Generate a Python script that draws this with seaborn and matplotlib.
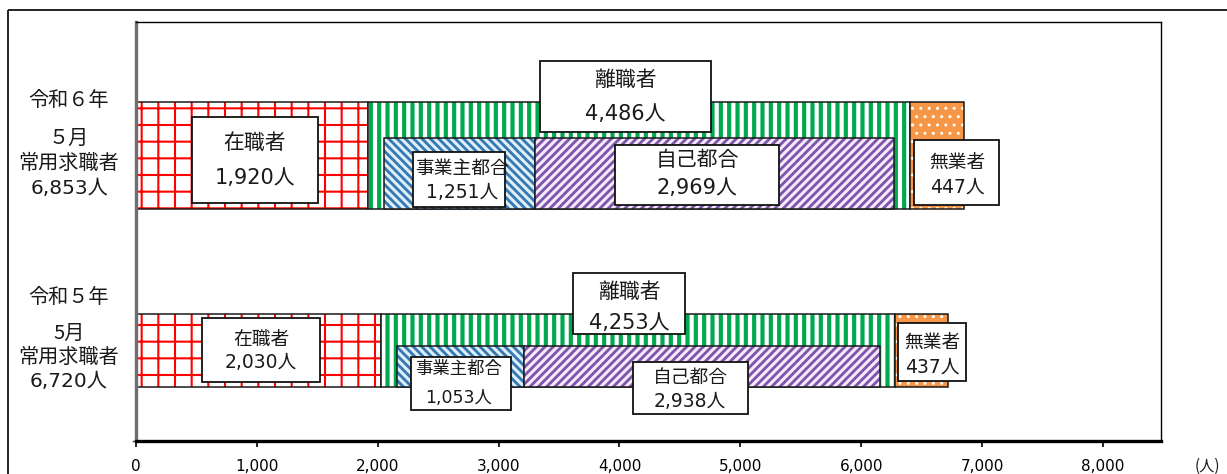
import numpy as np
import pandas as pd
import matplotlib
matplotlib.use("Agg")
import matplotlib.pyplot as plt
import seaborn as sns
from matplotlib.patches import Rectangle
from matplotlib.transforms import Affine2D

# ---------------- data ----------------
years = ["令和６年", "令和５年"]
months = ["５月", "5月"]
seekers_label = "常用求職者"
total = [6853, 6720]
employed = [1920, 2030]          # 在職者
separated = [4486, 4253]         # 離職者
employer_reason = [1251, 1053]   # 事業主都合
own_reason = [2969, 2938]        # 自己都合
unemployed = [447, 437]          # 無業者
series_names = ["在職者", "離職者", "事業主都合", "自己都合", "無業者"]
xtick_values = [0, 1000, 2000, 3000, 4000, 5000, 6000, 7000, 8000]
unit_label = "(人)"

# ---------------- style ----------------
W, H = 1227, 474
sns.set_theme(style="white")
plt.rcParams["font.family"] = ["Noto Sans CJK JP", "DejaVu Sans"]
NUM_FONT = ["DejaVu Sans", "Noto Sans CJK JP"]

fig = plt.figure(figsize=(W / 100, H / 100), dpi=100)
px = Affine2D().scale(1 / W, -1 / H).translate(0, 1) + fig.transFigure
ax = fig.add_axes([136 / W, 1 - 441 / H, (1161 - 136) / W, (441 - 22) / H])

# bar layout (axis units, ylim 0..10)
main_pos = [6.814, 2.16]
main_h = [2.554, 1.742]
inner_pos = [6.384, 1.778]
inner_h = [1.695, 0.978]

styles = {
    "在職者": dict(face="white", hc="#FF0000", hatch="+", hlw=1.5),
    "離職者": dict(face="white", hc="#00A84F", hatch="||", hlw=3.0),
    "事業主都合": dict(face="#DCEFF8", hc="#3577B0", hatch="\\\\\\\\", hlw=2.0),
    "自己都合": dict(face="#F4E8FA", hc="#7B55A8", hatch="////", hlw=2.0),
    "無業者": dict(face="#F79646", hc="white", hatch="..", hlw=1.0),
}


def draw_bar(value, pos, h, left, st):
    n0 = len(ax.patches)
    with plt.rc_context({"hatch.linewidth": st["hlw"]}):
        sns.barplot(x=[value], y=[pos], orient="y", native_scale=True, width=h,
                    left=left, color=st["face"], edgecolor=st["hc"], hatch=st["hatch"],
                    linewidth=0, saturation=1, errorbar=None, ax=ax)
    for p in ax.patches[n0:]:
        if hasattr(p, "set_hatch_linewidth"):
            p.set_hatch_linewidth(st["hlw"])
    sns.barplot(x=[value], y=[pos], orient="y", native_scale=True, width=h,
                left=left, color="#1a1a1a", fill=False, linewidth=1.1,
                saturation=1, errorbar=None, ax=ax)


for i in range(len(years)):
    # main stacked segments
    draw_bar(employed[i], main_pos[i], main_h[i], 0, styles["在職者"])
    draw_bar(separated[i], main_pos[i], main_h[i], employed[i], styles["離職者"])
    draw_bar(unemployed[i], main_pos[i], main_h[i], employed[i] + separated[i], styles["無業者"])
    # breakdown of 離職者
    start = employed[i] + (separated[i] - employer_reason[i] - own_reason[i]) / 2
    draw_bar(employer_reason[i], inner_pos[i], inner_h[i], start, styles["事業主都合"])
    draw_bar(own_reason[i], inner_pos[i], inner_h[i], start + employer_reason[i], styles["自己都合"])

ax.set_xlim(0, 8480)
ax.set_ylim(0, 10)
ax.set_xticks(xtick_values)
ax.set_xticklabels([f"{v:,}" for v in xtick_values])
ax.set_yticks([0])
ax.set_yticklabels([])
ax.set_xlabel("")
ax.set_ylabel("")
ax.tick_params(axis="x", bottom=True, direction="out", length=4, width=1.2,
               color="black", pad=9, labelsize=11, labelcolor="black")
ax.tick_params(axis="y", left=True, direction="out", length=3, width=1.0, color="#555555")
for lab in ax.get_xticklabels():
    lab.set_family(["DejaVu Sans"])
for side, (c, lw) in {"left": ("#6e6e6e", 2.4), "bottom": ("black", 2.4),
                      "top": ("black", 1.0), "right": ("black", 1.0)}.items():
    ax.spines[side].set_visible(True)
    ax.spines[side].set_color(c)
    ax.spines[side].set_linewidth(lw)

# outer chart frame
fig.add_artist(Rectangle((8, 10), 1400, 700, transform=px, fill=False,
                         lw=1.4, ec="#222222", zorder=4))

# unit label
fig.text(1207, 466, unit_label, transform=px, ha="center", va="center",
         fontsize=11, color="#1a1a1a")

# category labels
cat_y = [(100, 138, 163, 188), (298, 333, 357, 382)]
for i in range(len(years)):
    texts = [years[i], months[i], seekers_label]
    for t, y in zip(texts, cat_y[i][:3]):
        fig.text(69, y, t, transform=px, ha="center", va="center",
                 fontsize=14.5, color="#1a1a1a")
    fig.text(69, cat_y[i][3], f"{total[i]:,}人", transform=px, ha="center",
             va="center", fontsize=14.5, color="#1a1a1a", family=NUM_FONT)

# annotation boxes: box (x0, y0, x1, y1), text (cx, y1, y2), fontsize
values = {"在職者": employed, "離職者": separated, "事業主都合": employer_reason,
          "自己都合": own_reason, "無業者": unemployed}
box_layout = [
    {"在職者": ((192, 117, 318, 203), (255, 143, 178), 15),
     "離職者": ((540, 61, 711, 132), (625, 80, 114), 15),
     "事業主都合": ((413, 152, 505, 207), (462, 168, 193), 13.5),
     "自己都合": ((615, 145, 779, 205), (697, 160, 188), 15),
     "無業者": ((914, 140, 999, 205), (957, 162, 187), 13.5)},
    {"在職者": ((202, 318, 320, 382), (261, 340, 363), 13.5),
     "離職者": ((573, 273, 685, 334), (629, 292, 323), 15),
     "事業主都合": ((411, 357, 511, 410), (459, 369, 398), 12.5),
     "自己都合": ((633, 362, 748, 414), (690, 377, 402), 13.5),
     "無業者": ((898, 323, 966, 381), (932, 342, 367), 13.5)},
]
for i in range(len(years)):
    for name in series_names:
        (x0, y0, x1, y1), (cx, t1, t2), fs = box_layout[i][name]
        fig.add_artist(Rectangle((x0, y0), x1 - x0, y1 - y0, transform=px,
                                 fc="white", ec="#111111", lw=1.3, zorder=5))
        fig.text(cx, t1, name, transform=px, ha="center", va="center",
                 fontsize=fs, color="#1a1a1a", zorder=6)
        fig.text(cx, t2, f"{values[name][i]:,}人", transform=px, ha="center",
                 va="center", fontsize=fs, color="#1a1a1a", zorder=6,
                 family=NUM_FONT)

fig.savefig("out.png", dpi=100)
